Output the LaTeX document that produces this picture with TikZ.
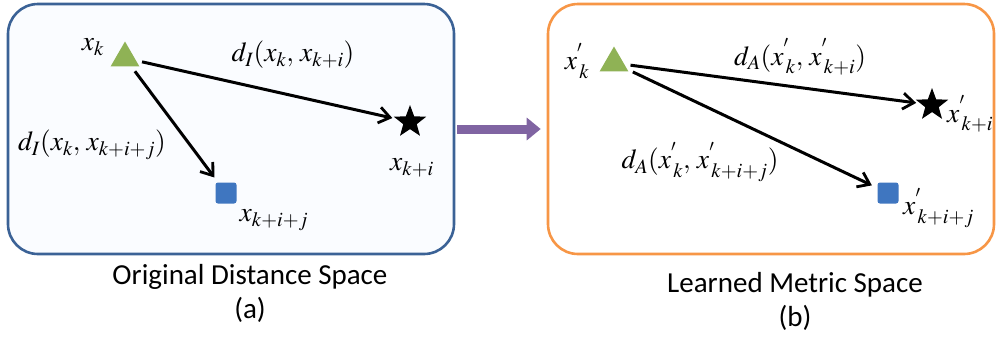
\documentclass[tikz,border=0pt]{standalone}
\usepackage{fontspec}
\setsansfont{Carlito}
\usepackage{mathptmx}
\usetikzlibrary{arrows.meta,shapes.geometric}
\definecolor{SpaceBlue}{HTML}{3B6296}
\definecolor{SpaceFill}{HTML}{FAFCFF}
\definecolor{SpaceOrange}{HTML}{F79646}
\definecolor{TriGreen}{HTML}{8FB255}
\definecolor{SqBlue}{HTML}{3F76C0}
\definecolor{MapPurple}{HTML}{8064A2}

\begin{document}
\begin{tikzpicture}[
  x=1pt,y=-1pt,
  space/.style={
    rounded corners=30pt,line width=2.6pt,minimum width=446pt,
    minimum height=250pt,inner sep=0pt
  },
  tri/.style={
    regular polygon,regular polygon sides=3,fill=TriGreen,
    minimum size=33pt,inner sep=0pt
  },
  starpt/.style={
    star,star points=5,star point ratio=2.4,fill=black,
    minimum size=34pt,inner sep=0pt
  },
  sq/.style={
    fill=SqBlue,rounded corners=2.5pt,minimum size=21pt,inner sep=0pt
  },
  lbl/.style={font=\fontsize{27.5}{30}\selectfont,inner sep=1pt},
  captxt/.style={font=\sffamily\fontsize{29}{34}\selectfont,align=center},
  arr/.style={-{Straight Barb[length=11pt,width=16pt,line width=2.8pt]},
    line width=3pt},
  map/.style={-{Triangle[length=14pt,width=22pt]},line width=9pt,draw=MapPurple}
]
  \useasboundingbox (0,0) rectangle (998,341);

  % the two spaces
  \node[space,draw=SpaceBlue,fill=SpaceFill] (orig) at (231,129) {};
  \node[space,draw=SpaceOrange,fill=white] (learn) at (771,129) {};
  \draw[map,shorten <=2pt,shorten >=6pt] (orig.east) -- (learn.west);

  % (a) original distance space
  \node[tri] (triA) at (125,58) {};
  \node[starpt] (starA) at (410,122) {};
  \node[sq] (sqA) at (226,193) {};
  \node[lbl] (xkA) at (93,47) {$x_k$};
  \node[lbl] (xkiA) at (412,168) {$x_{k+i}$};
  \node[lbl] (xkijA) at (274,220) {$x_{k+i+j}$};
  \draw[arr,shorten <=6pt,shorten >=4pt] (triA) -- (starA);
  \draw[arr,shorten <=6pt,shorten >=6pt] (triA) -- (sqA);
  \node[lbl] (dIa) at (293,55) {$d_I(x_k,\,x_{k+i})$};
  \node[lbl] (dIb) at (92,145) {$d_I(x_k,\,x_{k+i+j})$};

  % (b) learned metric space
  \node[tri] (triB) at (614,63) {};
  \node[starpt] (starB) at (932,105) {};
  \node[sq] (sqB) at (888,193) {};
  \node[lbl] (xkB) at (577,61) {$x^{'}_{\,k}$};
  \node[lbl,anchor=west] (xkiB) at (946,114) {$x^{'}_{\,k+i}$};
  \node[lbl,anchor=west] (xkijB) at (902,208) {$x^{'}_{\,k+i+j}$};
  \draw[arr,shorten <=6pt,shorten >=4pt] (triB) -- (starB);
  \draw[arr,shorten <=6pt,shorten >=6pt] (triB) -- (sqB);
  \node[lbl] (dAa) at (800,57) {$d_A(x^{'}_{\,k},\,x^{'}_{\,k+i})$};
  \node[lbl] (dAb) at (700,162) {$d_A(x^{'}_{\,k},\,x^{'}_{\,k+i+j})$};

  % captions
  \node[captxt] (capA) at (250,293) {Original Distance Space\\(a)};
  \node[captxt] (capB) at (795,301) {Learned Metric Space\\(b)};
\end{tikzpicture}
\end{document}
